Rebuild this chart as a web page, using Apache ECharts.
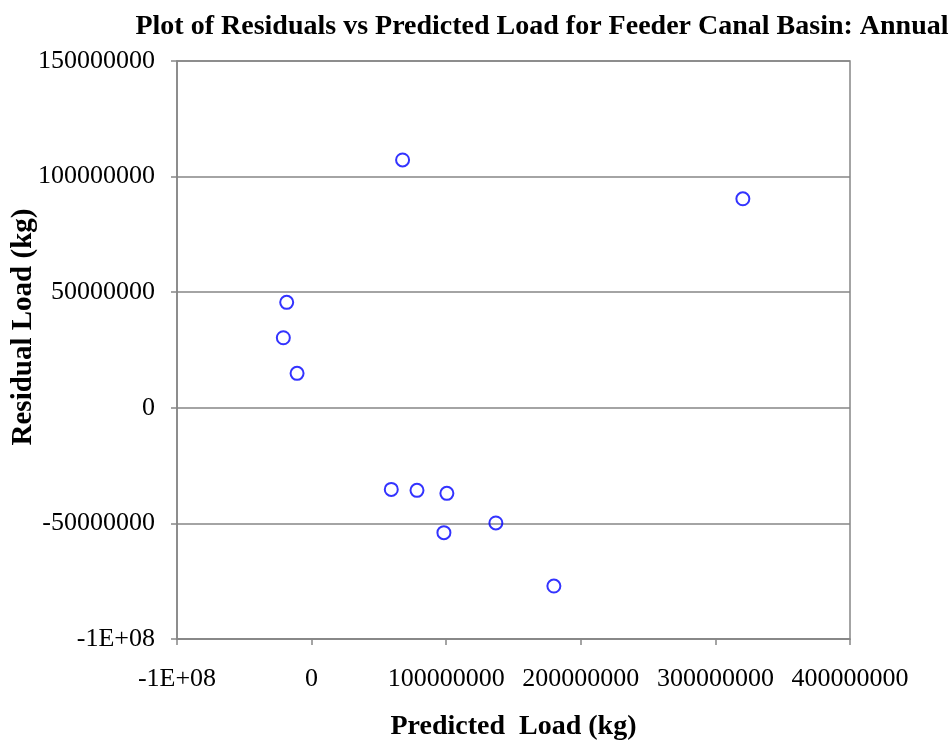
<!DOCTYPE html>
<html><head><meta charset="utf-8">
<script src="https://cdn.jsdelivr.net/npm/echarts@6/dist/echarts.min.js"></script>
<style>html,body{margin:0;padding:0;background:#fff}#c{width:952px;height:745px}</style>
</head><body><div id="c"></div>
<script>
const titleText = 'Plot of Residuals vs Predicted Load for Feeder Canal Basin: Annual';
const xTitle = 'Predicted  Load (kg)';
const yTitle = 'Residual Load (kg)';
const predicted = [67.6e6, 320.4e6, -18.5e6, -21.0e6, -10.8e6, 59.2e6, 78.3e6, 100.5e6, 98.3e6, 136.9e6, 180.0e6];
const residual  = [107.2e6, 90.4e6, 45.6e6, 30.3e6, 14.9e6, -35.3e6, -35.7e6, -37.0e6, -54.0e6, -49.8e6, -77.1e6];
const xTicks = [-1e8, 0, 1e8, 2e8, 3e8, 4e8];
const yTicks = [-1e8, -5e7, 0, 5e7, 1e8, 1.5e8];
const fmt = v => (v === -1e8 ? '-1E+08' : String(Math.round(v)));
const font = 'Liberation Serif';
const chart = echarts.init(document.getElementById('c'));
chart.setOption({
  animation: false,
  textStyle: { fontFamily: font },
  title: {
    text: titleText, left: 537, textAlign: 'center', top: 8,
    textStyle: { fontFamily: font, fontWeight: 'bold', fontSize: 28, color: '#000' }
  },
  graphic: [{
    type: 'text', x: 24, y: 327, rotation: Math.PI / 2,
    style: { text: yTitle, fontFamily: font, fontWeight: 'bold', fontSize: 29, fill: '#000',
             align: 'center', verticalAlign: 'middle' }
  }],
  grid: { left: 177, right: 102, top: 61, bottom: 106, show: true, borderColor: '#868686', borderWidth: 1.5,
          containLabel: false, outerBoundsMode: 'none' },
  xAxis: {
    type: 'value', min: xTicks[0], max: xTicks[xTicks.length - 1], interval: 1e8,
    axisLine: { onZero: false, lineStyle: { color: '#868686', width: 1.5 } },
    axisTick: { show: true, length: 6, lineStyle: { color: '#868686', width: 1.5 } },
    splitLine: { show: false },
    axisLabel: { formatter: fmt, color: '#000', fontSize: 26, fontFamily: font, margin: 27 },
    name: xTitle, nameLocation: 'middle', nameGap: 74,
    nameTextStyle: { fontFamily: font, fontWeight: 'bold', fontSize: 28, color: '#000' }
  },
  yAxis: {
    type: 'value', min: yTicks[0], max: yTicks[yTicks.length - 1], interval: 5e7,
    axisLine: { onZero: false, lineStyle: { color: '#868686', width: 1.5 } },
    axisTick: { show: true, length: 6, lineStyle: { color: '#868686', width: 1.5 } },
    splitLine: { show: true, lineStyle: { color: '#868686', width: 1.5 } },
    axisLabel: { formatter: fmt, color: '#000', fontSize: 26, fontFamily: font, margin: 22 }
  },
  series: [{
    type: 'scatter',
    data: predicted.map((x, i) => [x, residual[i]]),
    symbol: 'circle', symbolSize: 13,
    itemStyle: { color: 'rgba(0,0,0,0)', borderColor: '#0000ff', borderWidth: 2 }
  }]
});
</script></body></html>
